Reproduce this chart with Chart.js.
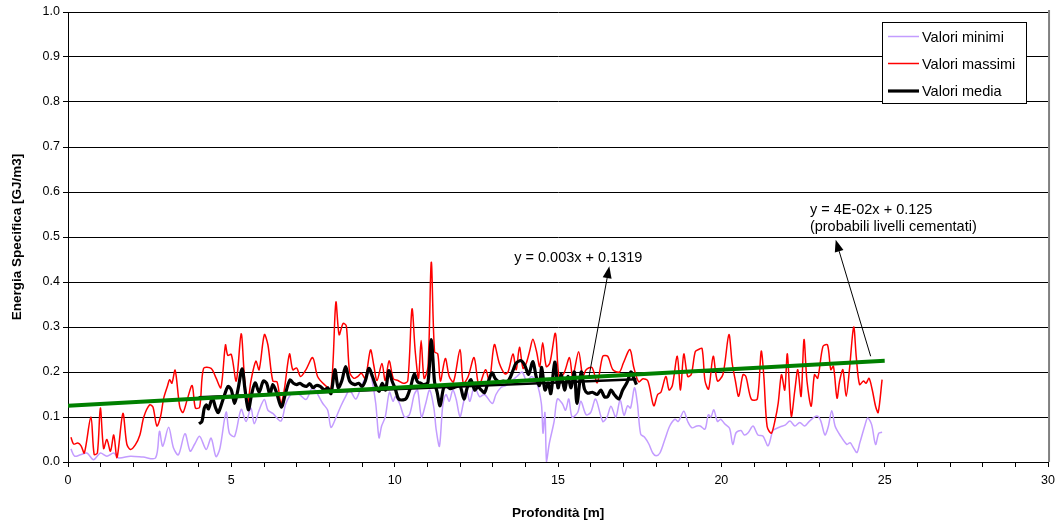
<!DOCTYPE html>
<html lang="it">
<head>
<meta charset="utf-8">
<title>Energia Specifica</title>
<script src="https://cdn.jsdelivr.net/npm/chart.js@4.4.1/dist/chart.umd.min.js"></script>
<style>
  html, body { margin: 0; padding: 0; background: #fff; }
  canvas { display: block; }
</style>
</head>
<body>
<canvas id="grafico" width="1061" height="526"></canvas>
<script>
// valori (profondita in m, energia in GJ/m3)
var minDepth = [0.09,0.2,0.38,0.58,0.78,0.99,1.19,1.4,1.55,1.91,2.3,2.68,2.8,2.9,3.08,3.23,3.38,3.58,3.74,3.88,
  4.03,4.23,4.38,4.53,4.65,4.84,4.94,5.1,5.3,5.45,5.6,5.7,5.85,6.01,6.12,6.27,6.52,6.67,6.88,7.08,
  7.29,7.49,7.8,7.95,8.05,8.2,8.35,8.5,8.62,8.81,9.0,9.16,9.23,9.3,9.42,9.52,9.6,9.71,9.84,9.95,
  10.02,10.15,10.3,10.45,10.6,10.7,10.82,10.95,11.07,11.2,11.27,11.37,11.47,11.57,11.67,11.78,11.88,12.0,12.1,12.2,
  12.3,12.44,12.6,12.75,12.99,13.1,13.26,13.4,13.58,13.74,13.9,14.04,14.19,14.34,14.49,14.54,14.6,14.65,14.73,14.88,
  14.98,15.13,15.23,15.33,15.43,15.6,15.7,15.86,16.0,16.15,16.37,16.5,16.62,16.77,16.9,17.02,17.13,17.22,17.34,17.43,
  17.53,17.65,17.78,17.9,18.0,18.12,18.27,18.42,18.58,18.68,18.85,18.97,19.1,19.25,19.35,19.5,19.6,19.68,19.77,19.88,
  19.98,20.1,20.25,20.35,20.45,20.6,20.7,20.82,20.97,21.12,21.27,21.43,21.58,21.7,21.8,21.95,22.1,22.25,22.4,22.55,
  22.7,22.92,23.04,23.17,23.27,23.38,23.48,23.63,23.84,23.94,24.04,24.15,24.24,24.4,24.48,24.6,24.72,24.82,24.92];
var minVal = [0.029,0.013,0.016,0.02,0.005,0.02,0.013,0.02,0.009,0.013,0.011,0.009,0.068,0.035,0.077,0.031,0.016,0.063,0.024,0.04,
  0.057,0.028,0.053,0.012,0.03,0.111,0.064,0.057,0.117,0.09,0.12,0.085,0.115,0.139,0.115,0.108,0.091,0.13,0.154,0.15,
  0.139,0.165,0.13,0.115,0.077,0.098,0.124,0.146,0.16,0.14,0.172,0.194,0.2,0.185,0.13,0.054,0.08,0.1,0.155,0.135,
  0.145,0.13,0.1,0.105,0.15,0.16,0.1,0.13,0.16,0.12,0.072,0.035,0.124,0.15,0.135,0.16,0.14,0.101,0.13,0.16,
  0.135,0.168,0.145,0.15,0.13,0.15,0.166,0.17,0.18,0.19,0.2,0.18,0.19,0.178,0.13,0.064,0.11,0.0,0.04,0.09,
  0.14,0.13,0.115,0.14,0.1,0.11,0.135,0.105,0.11,0.14,0.09,0.1,0.124,0.1,0.138,0.104,0.125,0.12,0.165,0.13,
  0.062,0.055,0.04,0.02,0.014,0.02,0.05,0.08,0.095,0.09,0.113,0.09,0.076,0.08,0.08,0.073,0.105,0.1,0.116,0.09,
  0.095,0.085,0.075,0.039,0.065,0.07,0.06,0.065,0.08,0.06,0.058,0.036,0.07,0.075,0.078,0.082,0.091,0.08,0.088,0.08,
  0.091,0.102,0.092,0.06,0.078,0.114,0.08,0.06,0.039,0.043,0.032,0.021,0.043,0.083,0.098,0.083,0.039,0.064,0.066];

var maxDepth = [0.09,0.17,0.3,0.4,0.5,0.7,0.8,0.9,0.99,1.09,1.19,1.3,1.4,1.5,1.68,1.8,1.91,2.06,2.2,2.32,
  2.5,2.6,2.72,2.83,2.93,3.05,3.11,3.18,3.28,3.42,3.52,3.65,3.8,3.9,4.03,4.15,4.38,4.53,4.68,4.82,
  4.89,5.0,5.15,5.3,5.4,5.5,5.6,5.75,5.85,6.01,6.12,6.27,6.4,6.52,6.62,6.78,6.88,7.0,7.12,7.29,
  7.49,7.64,7.85,8.05,8.2,8.3,8.42,8.52,8.62,8.75,8.87,8.98,9.1,9.26,9.36,9.46,9.61,9.71,9.83,9.96,
  10.1,10.26,10.4,10.53,10.63,10.73,10.81,10.9,11.02,11.12,11.22,11.32,11.4,11.55,11.67,11.8,12.0,12.1,12.25,12.43,
  12.58,12.78,12.9,13.05,13.2,13.37,13.47,13.62,13.72,13.82,13.93,14.03,14.13,14.23,14.34,14.44,14.53,14.64,14.75,14.92,
  15.03,15.18,15.35,15.45,15.63,15.76,15.86,16.04,16.2,16.37,16.52,16.68,16.88,17.0,17.2,17.32,17.47,17.6,17.75,17.93,
  18.05,18.15,18.3,18.4,18.5,18.65,18.75,18.85,18.97,19.08,19.2,19.3,19.41,19.5,19.61,19.75,19.88,20.05,20.23,20.33,
  20.43,20.53,20.66,20.75,20.92,21.1,21.22,21.3,21.4,21.53,21.65,21.74,21.84,21.94,22.02,22.14,22.25,22.34,22.44,22.53,
  22.62,22.75,22.85,22.95,23.11,23.25,23.35,23.43,23.54,23.62,23.72,23.82,23.92,24.05,24.13,24.23,24.35,24.43,24.52,24.62,
  24.72,24.8,24.92];
var maxVal = [0.055,0.04,0.042,0.036,0.02,0.1,0.017,0.02,0.12,0.03,0.05,0.024,0.06,0.01,0.108,0.04,0.028,0.038,0.06,0.1,
  0.127,0.122,0.08,0.1,0.142,0.17,0.183,0.175,0.204,0.123,0.11,0.139,0.17,0.12,0.122,0.208,0.208,0.187,0.165,0.26,
  0.237,0.239,0.18,0.285,0.19,0.13,0.18,0.224,0.205,0.283,0.26,0.18,0.178,0.13,0.16,0.24,0.205,0.209,0.19,0.206,
  0.232,0.19,0.172,0.163,0.355,0.283,0.308,0.302,0.2,0.186,0.19,0.197,0.186,0.249,0.215,0.181,0.219,0.181,0.225,0.185,
  0.181,0.175,0.18,0.34,0.245,0.186,0.27,0.186,0.212,0.444,0.245,0.24,0.18,0.23,0.19,0.178,0.25,0.175,0.19,0.232,
  0.17,0.205,0.18,0.261,0.22,0.196,0.2,0.24,0.205,0.255,0.208,0.22,0.246,0.273,0.246,0.212,0.265,0.212,0.22,0.286,
  0.19,0.197,0.232,0.19,0.245,0.19,0.205,0.21,0.176,0.235,0.235,0.205,0.2,0.22,0.25,0.21,0.178,0.185,0.18,0.125,
  0.15,0.155,0.19,0.16,0.17,0.235,0.16,0.24,0.19,0.195,0.245,0.25,0.252,0.18,0.162,0.235,0.18,0.195,0.283,0.22,
  0.18,0.146,0.194,0.19,0.139,0.14,0.246,0.19,0.079,0.064,0.095,0.131,0.194,0.16,0.24,0.102,0.16,0.205,0.146,0.272,
  0.18,0.124,0.194,0.186,0.257,0.26,0.205,0.213,0.142,0.18,0.205,0.146,0.205,0.3,0.233,0.172,0.18,0.175,0.186,0.16,
  0.124,0.11,0.183];

var meanDepth = [4.01,4.1,4.17,4.24,4.3,4.42,4.52,4.6,4.75,4.9,5.0,5.1,5.2,5.33,5.42,5.52,5.62,5.73,5.85,5.98,
  6.08,6.18,6.27,6.38,6.53,6.65,6.79,6.9,7.0,7.1,7.2,7.3,7.4,7.5,7.6,7.72,7.85,7.95,8.05,8.17,
  8.27,8.38,8.5,8.62,8.78,8.9,9.0,9.1,9.21,9.32,9.42,9.52,9.62,9.72,9.82,9.92,10.02,10.12,10.26,10.36,
  10.48,10.6,10.7,10.8,10.9,11.02,11.12,11.22,11.3,11.39,11.5,11.6,11.7,11.8,11.9,12.0,12.12,12.22,12.33,12.45,
  12.55,12.65,12.75,12.85,12.98,13.08,13.2,13.32,13.45,13.55,13.63,13.72,13.87,13.98,14.1,14.23,14.33,14.43,14.5,14.6,
  14.7,14.78,14.9,15.0,15.1,15.2,15.3,15.4,15.5,15.58,15.71,15.81,15.91,16.05,16.2,16.31,16.42,16.52,16.62,16.72,
  16.86,16.98,17.12,17.23,17.3,17.4];
var meanVal = [0.085,0.09,0.119,0.127,0.118,0.142,0.12,0.11,0.14,0.168,0.16,0.13,0.16,0.207,0.16,0.116,0.15,0.176,0.155,0.18,
  0.175,0.15,0.172,0.155,0.122,0.15,0.182,0.175,0.172,0.175,0.17,0.168,0.174,0.165,0.17,0.168,0.16,0.165,0.152,0.205,
  0.165,0.18,0.212,0.18,0.172,0.175,0.168,0.18,0.208,0.19,0.17,0.157,0.175,0.16,0.203,0.18,0.162,0.14,0.138,0.142,
  0.165,0.195,0.178,0.175,0.172,0.178,0.272,0.178,0.155,0.125,0.165,0.168,0.163,0.165,0.168,0.17,0.14,0.165,0.183,0.16,
  0.167,0.16,0.154,0.175,0.198,0.185,0.178,0.18,0.178,0.19,0.205,0.22,0.225,0.215,0.195,0.223,0.19,0.17,0.21,0.16,
  0.175,0.152,0.222,0.165,0.195,0.16,0.19,0.165,0.2,0.13,0.2,0.162,0.153,0.155,0.15,0.16,0.145,0.145,0.16,0.15,
  0.14,0.16,0.178,0.2,0.19,0.172];

// linee di tendenza
var trendMeanX = [4.0, 17.4];
var trendMeanY = [0.1439, 0.1841];
var trendAllX = [0, 25];
var trendAllY = [0.125, 0.225];

var seriesNames = ['Valori minimi', 'Valori massimi', 'Valori media'];
var yTicks = [0, 0.1, 0.2, 0.3, 0.4, 0.5, 0.6, 0.7, 0.8, 0.9, 1.0];

function pts(xs, ys) {
  var out = [];
  for (var i = 0; i < xs.length; i++) out.push({x: xs[i], y: ys[i]});
  return out;
}

var FONT = '"Liberation Sans", Arial, sans-serif';

// testi e frecce sul grafico (in coordinate dati)
var notes = [
  {text: 'y = 0.003x + 0.1319', x: 13.66, y: 0.4544},
  {text: 'y = 4E-02x + 0.125', x: 22.71, y: 0.561},
  {text: '(probabili livelli cementati)', x: 22.71, y: 0.523}
];
var arrows = [
  {x1: 15.95, y1: 0.1907, x2: 16.57, y2: 0.435},
  {x1: 24.57, y1: 0.235, x2: 23.5, y2: 0.494}
];

var extras = {
  id: 'extras',
  afterDraw: function(chart) {
    var c = chart.ctx, a = chart.chartArea, xs = chart.scales.x, ys = chart.scales.y;
    c.save();
    // bordo destro area
    c.strokeStyle = '#808080';
    c.lineWidth = 2;
    c.beginPath();
    c.moveTo(a.right + 1, a.top - 2);
    c.lineTo(a.right + 1, a.bottom);
    c.stroke();

    // frecce
    c.strokeStyle = '#000';
    c.fillStyle = '#000';
    c.lineWidth = 1;
    arrows.forEach(function(ar) {
      var px1 = xs.getPixelForValue(ar.x1), py1 = ys.getPixelForValue(ar.y1);
      var px2 = xs.getPixelForValue(ar.x2), py2 = ys.getPixelForValue(ar.y2);
      var ang = Math.atan2(py2 - py1, px2 - px1);
      var L = 12, W = 4.5;
      var bx = px2 - L * Math.cos(ang), by = py2 - L * Math.sin(ang);
      c.beginPath();
      c.moveTo(px1, py1);
      c.lineTo(bx, by);
      c.stroke();
      c.beginPath();
      c.moveTo(px2, py2);
      c.lineTo(bx + W * Math.sin(ang), by - W * Math.cos(ang));
      c.lineTo(bx - W * Math.sin(ang), by + W * Math.cos(ang));
      c.closePath();
      c.fill();
    });

    // testi
    c.font = '14.5px ' + FONT;
    c.textBaseline = 'middle';
    c.textAlign = 'left';
    notes.forEach(function(n) {
      c.fillText(n.text, xs.getPixelForValue(n.x), ys.getPixelForValue(n.y));
    });

    // legenda
    var lx = 882, ly = 22, lw = 144, lh = 81;
    c.fillStyle = '#fff';
    c.fillRect(lx, ly, lw, lh);
    c.strokeStyle = '#000';
    c.lineWidth = 1;
    c.strokeRect(lx + 0.5, ly + 0.5, lw, lh);
    var rows = [36.5, 63.5, 91];
    chart.data.datasets.slice(0, 3).forEach(function(ds, i) {
      c.strokeStyle = ds.borderColor;
      c.lineWidth = ds.borderWidth;
      c.beginPath();
      c.moveTo(888, rows[i]);
      c.lineTo(919, rows[i]);
      c.stroke();
      c.fillStyle = '#000';
      c.fillText(ds.label, 922, rows[i] + 1);
    });
    c.restore();
  }
};

new Chart(document.getElementById('grafico').getContext('2d'), {
  type: 'line',
  data: {
    datasets: [
      {label: seriesNames[0], data: pts(minDepth, minVal), borderColor: '#c39cff', borderWidth: 1.5, tension: 0.3, order: 4},
      {label: seriesNames[1], data: pts(maxDepth, maxVal), borderColor: '#ff0000', borderWidth: 1.5, tension: 0.3, order: 3},
      {label: seriesNames[2], data: pts(meanDepth, meanVal), borderColor: '#000000', borderWidth: 3.2, tension: 0.3, order: 2},
      {label: 'tendenza media', data: pts(trendMeanX, trendMeanY), borderColor: '#000000', borderWidth: 2.5, tension: 0, order: 1},
      {label: 'tendenza', data: pts(trendAllX, trendAllY), borderColor: '#008000', borderWidth: 4, tension: 0, order: 0}
    ]
  },
  options: {
    responsive: false,
    animation: false,
    parsing: true,
    elements: { point: { radius: 0, hoverRadius: 0 } },
    layout: { padding: { left: 0, right: 11, top: 12, bottom: 0 } },
    plugins: { legend: { display: false }, tooltip: { enabled: false } },
    scales: {
      x: {
        type: 'linear', min: 0, max: 30,
        afterFit: function(s) { s.height = 64; },
        border: { color: '#000', width: 1 },
        grid: { drawOnChartArea: false, drawTicks: true, tickLength: 5, color: '#000' },
        ticks: {
          stepSize: 1, autoSkip: false, maxRotation: 0, padding: 6, color: '#000',
          font: { family: FONT, size: 12.5 },
          callback: function(v) { return v % 5 === 0 ? String(v) : ''; }
        },
        title: { display: true, text: 'Profondità [m]', color: '#000', font: { family: FONT, size: 13.5, weight: 'bold' }, padding: { top: 0, bottom: 5 } }
      },
      y: {
        type: 'linear', min: 0, max: 1,
        afterFit: function(s) { s.width = 68; },
        afterBuildTicks: function(s) { s.ticks = yTicks.map(function(v) { return {value: v}; }); },
        border: { color: '#000', width: 1 },
        grid: { color: '#000', lineWidth: 1, tickLength: 5 },
        ticks: {
          padding: 3, color: '#000',
          font: { family: FONT, size: 12.5 },
          callback: function(v) { return v.toFixed(1); }
        },
        title: { display: true, text: 'Energia Specifica [GJ/m3]', color: '#000', font: { family: FONT, size: 13.5, weight: 'bold' }, padding: { top: 9, bottom: 0 } }
      }
    }
  },
  plugins: [extras]
});
</script>
</body>
</html>
